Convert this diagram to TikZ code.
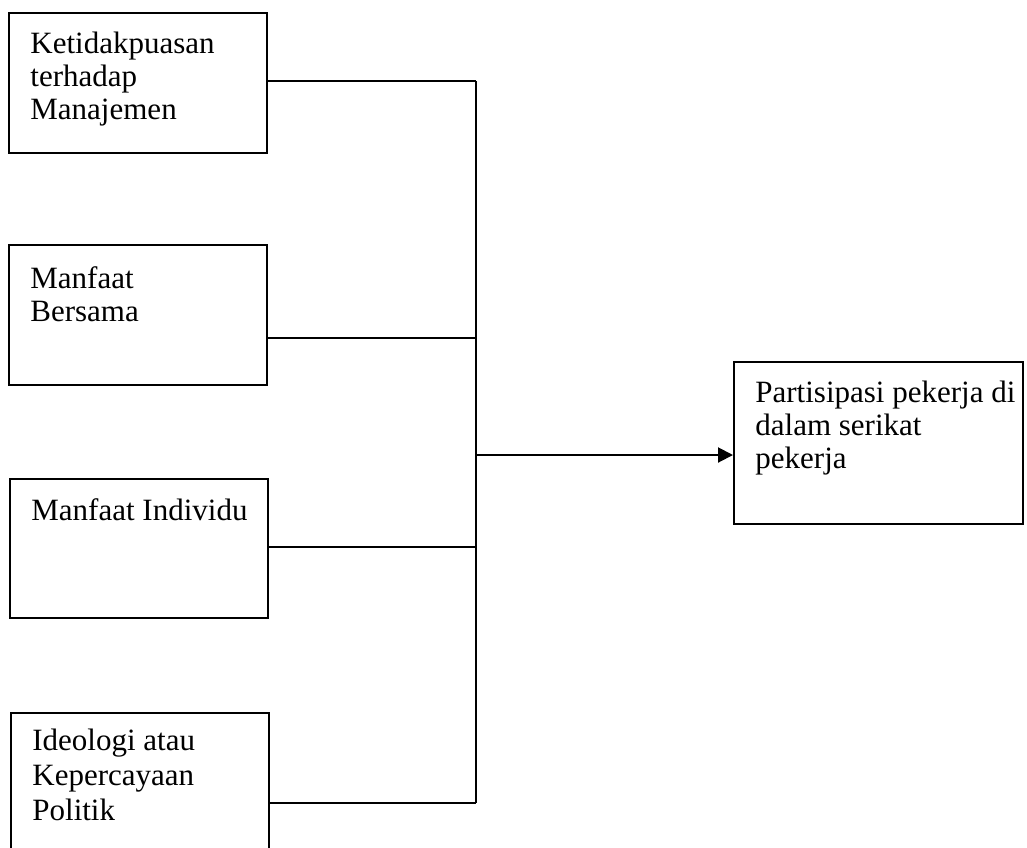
\documentclass[tikz,border=0pt]{standalone}
\usepackage{fontspec}
\setmainfont{Liberation Serif}
\usetikzlibrary{arrows.meta, positioning, calc}

\begin{document}
\begin{tikzpicture}[
  x=0.5pt, y=-0.5pt,
  kotak/.style={rectangle, draw, line width=1pt, anchor=north west, inner sep=0pt, minimum width=129pt, minimum height=70pt},
  teks/.style={anchor=north west, align=left, inner sep=0pt, xshift=11pt, yshift=-10pt, font=\fontsize{15.5}{16.5}\selectfont},
  garis/.style={line width=1pt},
  >={Triangle[length=7.5pt, width=7.5pt]}
]
  \useasboundingbox (0,0) rectangle (1027,847);

  % faktor-faktor
  \node[kotak, label={[teks]north west:Ketidakpuasan\\terhadap\\Manajemen}] (k1) at (8,12) {};
  \node[kotak, label={[teks, yshift=-1pt]north west:Manfaat\\Bersama}] (k2) at (8,244) {};
  \node[kotak, minimum height=69.5pt, label={[teks]north west:Manfaat Individu}] (k3) at (9,478) {};
  \node[kotak, minimum height=71pt, label={[teks, yshift=1.5pt, font=\fontsize{15.5}{17.5}\selectfont]north west:Ideologi atau\\Kepercayaan\\Politik}] (k4) at (10,712) {};

  % hasil
  \node[kotak, minimum width=144.5pt, minimum height=81pt, label={[teks]north west:Partisipasi pekerja di\\dalam serikat\\pekerja}] (hasil) at (733,361) {};

  % titik pada garis tegak
  \coordinate (j1) at (476,81);
  \coordinate (j2) at (476,338);
  \coordinate (j3) at (476,547);
  \coordinate (j4) at (476,803);
  \coordinate (j5) at (476,455);

  \draw[garis] (k1.east |- j1) -- (j1);
  \draw[garis] (k2.east |- j2) -- (j2);
  \draw[garis] (k3.east |- j3) -- (j3);
  \draw[garis] (k4.east |- j4) -- (j4);
  \draw[garis] (j1) -- (j4);
  \draw[garis, ->] (j5) -- (hasil.west |- j5);
\end{tikzpicture}
\end{document}
